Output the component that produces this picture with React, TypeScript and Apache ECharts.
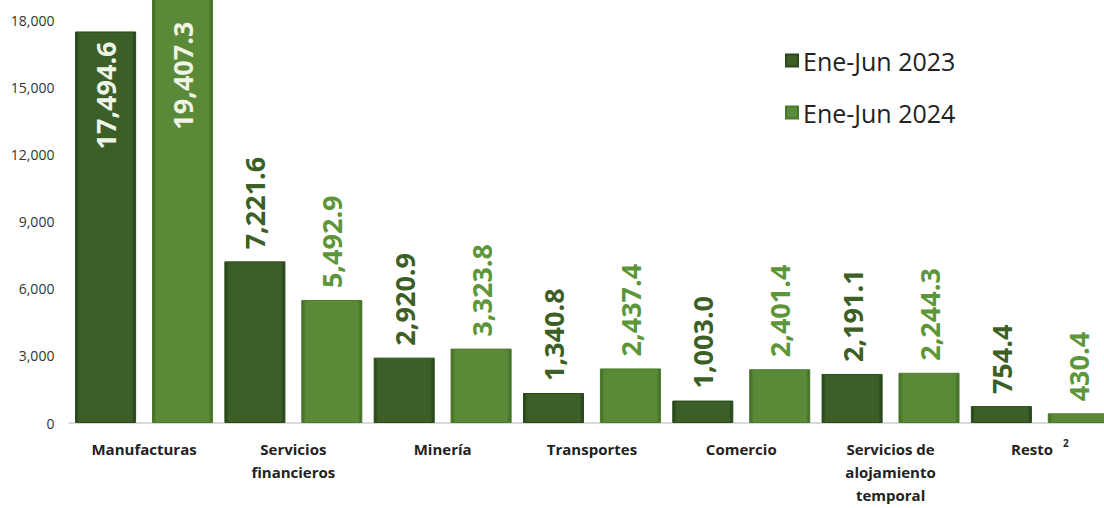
import React, { useEffect, useRef } from "react";
import * as echarts from "echarts";

const categories = [
  "Manufacturas",
  "Servicios\nfinancieros",
  "Minería",
  "Transportes",
  "Comercio",
  "Servicios de\nalojamiento\ntemporal",
  "Resto",
];
const seriesNames = ["Ene-Jun 2023", "Ene-Jun 2024"];
const values2023 = [17494.6, 7221.6, 2920.9, 1340.8, 1003.0, 2191.1, 754.4];
const values2024 = [19407.3, 5492.9, 3323.8, 2437.4, 2401.4, 2244.3, 430.4];
const yTicks = { min: 0, max: 21000, interval: 3000, lastShown: 18000 };

const fmt = (v: number) =>
  Number(v).toLocaleString("en-US", { minimumFractionDigits: 1, maximumFractionDigits: 1 });

const grad = (edge: string, main: string) =>
  new echarts.graphic.LinearGradient(0, 0, 1, 0, [
    { offset: 0, color: edge },
    { offset: 0.07, color: main },
    { offset: 0.93, color: main },
    { offset: 1, color: edge },
  ]);

export default function App() {
  const ref = useRef<HTMLDivElement>(null);
  useEffect(() => {
    if (!ref.current) return;
    const chart = echarts.init(ref.current, undefined, { renderer: "svg" });
    const font = "'Open Sans', 'Liberation Sans', sans-serif";
    const makeData = (vals: number[], insideDist: number[]) =>
      vals.map((v, i) =>
        i === 0
          ? {
              value: v,
              label: {
                position: "insideTop",
                distance: insideDist[0],
                align: "right",
                verticalAlign: "middle",
                color: "#eef4e6",
              },
            }
          : v
      );
    const labelBase = {
      show: true,
      position: "top",
      rotate: 90,
      align: "left",
      verticalAlign: "middle",
      distance: 12,
      fontFamily: font,
      fontWeight: "bold",
      fontSize: 27,
      formatter: (p: any) => fmt(p.value),
    };
    chart.setOption({
      animation: false,
      backgroundColor: "#ffffff",
      grid: {
        left: 69.4,
        right: -10.5,
        top: -47,
        bottom: 85,
        containLabel: false,
        outerBoundsMode: "none",
      },
      legend: {
        orient: "vertical",
        left: 780,
        top: 43,
        itemWidth: 12,
        itemHeight: 12,
        itemGap: 27,
        icon: "rect",
        textStyle: { fontFamily: font, fontSize: 25, color: "#222222" },
        data: seriesNames,
      },
      xAxis: {
        type: "category",
        data: categories,
        axisLine: { lineStyle: { color: "#d9d9d9", width: 2 } },
        axisTick: { show: false },
        axisLabel: {
          interval: 0,
          margin: 14,
          fontFamily: font,
          fontWeight: "bold",
          fontSize: 15,
          lineHeight: 23,
          color: "#222222",
          formatter: (v: string) => (v === "Resto" ? "Resto {sup|2}" : v),
          rich: {
            sup: { fontSize: 10, fontWeight: "bold", fontFamily: font, color: "#222222", padding: [0, 0, 12, 6] },
          },
        },
      },
      yAxis: {
        type: "value",
        min: yTicks.min,
        max: yTicks.max,
        interval: yTicks.interval,
        splitLine: { show: false },
        axisLine: { show: false },
        axisTick: { show: false },
        axisLabel: {
          margin: 15,
          fontFamily: font,
          fontSize: 14,
          color: "#333333",
          formatter: (v: number) => (v > yTicks.lastShown ? "" : v.toLocaleString("en-US")),
        },
      },
      series: [
        {
          name: seriesNames[0],
          type: "bar",
          barCategoryGap: "7.6%",
          barGap: "26%",
          data: makeData(values2023, [10]),
          itemStyle: {
            color: grad("#24401a", "#3c5f27"),
            borderColor: "#2a4a1c",
            borderWidth: 1,
          },
          label: { ...labelBase, color: "#3b5f25" },
        },
        {
          name: seriesNames[1],
          type: "bar",
          barCategoryGap: "7.6%",
          barGap: "26%",
          data: makeData(values2024, [33]),
          itemStyle: {
            color: grad("#3d6a24", "#5a8a37"),
            borderColor: "#4a7a2c",
            borderWidth: 1,
          },
          label: { ...labelBase, color: "#5c9638" },
        },
      ],
    });
    return () => chart.dispose();
  }, []);
  return (
    <div
      ref={ref}
      style={{ position: "fixed", left: 0, top: 0, width: 1104, height: 508, overflow: "hidden" }}
    />
  );
}
